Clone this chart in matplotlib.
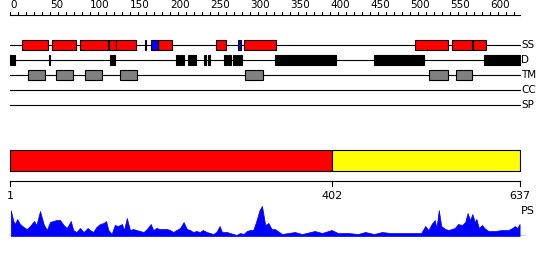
import matplotlib.pyplot as plt
from matplotlib.patches import Rectangle

seq_len = 637
domain_split = 402

track_names = ['SS', 'D', 'TM', 'CC', 'SP']

# secondary structure: helix (red) and strand (blue)
ss_helix = [(15, 47), (53, 83), (88, 122), (124, 133), (133, 157), (169, 170.5),
            (185, 203), (257, 270), (292, 332), (506, 547), (552, 577), (579, 595)]
ss_strand = [(176, 185), (285, 289)]

# disorder
disorder = [(0, 6), (49, 50.5), (125, 128), (129, 131), (207, 211), (212.5, 214.5),
            (216, 217.5), (222, 233), (242, 245), (248, 250.5), (267.5, 271),
            (272.5, 276), (279, 290), (331, 407), (455, 517), (592, 637)]

# transmembrane
tm = [(22, 44), (57, 79), (94, 115), (137, 159), (294, 316), (524, 547), (557, 578)]

cc = []
sp = []

# PS profile
ps_pos = [1, 4, 6, 9, 12.5, 17, 21, 25, 30, 33, 37.5, 42, 46, 50, 54, 58, 62.5, 67, 71,
          76, 79, 83, 87.5, 92, 97, 100, 104, 108, 112.5, 117, 120, 123, 127, 131, 135,
          140, 142.5, 146, 150, 154, 158, 162.5, 167, 171, 176, 179, 183, 187.5, 192,
          196, 200, 204, 208, 212.5, 217, 221, 225, 229, 233, 237.5, 241, 246, 250,
          254, 258, 262, 265, 271, 275, 279, 283, 287.5, 292, 296, 300, 304, 307.5,
          312, 315, 319, 323, 327, 331, 340, 356, 365, 381, 390, 402, 410, 423, 435,
          444, 455, 465, 475, 489, 500, 514, 519, 523, 527, 531, 533, 536, 539, 544,
          548, 552, 556, 560, 565, 569, 572, 575, 578, 581, 583, 586, 590, 593, 598,
          606, 615, 623, 628, 631, 634, 637]
ps_val = [25.7, 15.7, 12, 17, 12, 9, 7, 10, 15, 11, 25, 12, 6, 14, 15, 16, 16, 11, 8,
          15, 6, 4, 8, 4, 8, 6, 4, 9, 12, 13, 15, 6, 2, 11, 10, 12, 6, 18, 6, 7, 6, 5,
          4, 7, 12, 6, 8, 7, 7, 7, 6, 4, 6, 8, 14, 7, 6, 4, 5, 4, 6, 4, 3, 2, 4, 10, 4,
          4, 3, 2, 1, 3, 2, 5, 6, 6, 14, 26, 30, 11, 13, 7, 7, 2, 4, 2, 5, 3, 6, 3,
          3, 2, 4, 2, 4, 3, 3, 3, 3, 10, 6, 12, 16, 8, 26, 10, 7, 6, 7, 8, 12, 11, 14,
          23, 16, 22, 14, 17, 8, 11, 8, 5, 5, 6, 6, 8, 10, 8, 12]

W, H = 550, 260
fig = plt.figure(figsize=(W / 100, H / 100), dpi=100)
ax = fig.add_axes([0, 0, 1, 1])
# x in residues (residue 0 sits at 10 px, 0.8 px per residue), y in pixels from top
ax.set_xlim(-12.5, (W - 10) / 0.8)
ax.set_ylim(H, 0)
ax.axis('off')

lw = 0.8

# ruler
ax.plot([0, seq_len], [15, 15], color='black', lw=lw)
for t in range(0, seq_len, 10):
    ax.plot([t, t], [15, 11.5], color='black', lw=lw)
    if t % 50 == 0:
        ax.text(t, 10.5, str(t), ha='left', va='bottom', fontsize=7.5)


def draw_boxes(segs, y, color):
    for a, b in segs:
        ax.add_patch(Rectangle((a, y - 5), b - a, 10, facecolor=color,
                               edgecolor='black', lw=lw, zorder=3))


track_y = [45, 60, 75, 90, 105]
for name, y in zip(track_names, track_y):
    ax.plot([0, seq_len], [y, y], color='black', lw=lw, zorder=2)
    ax.text(seq_len + 2, y, name, ha='left', va='center', fontsize=7.5)

draw_boxes(ss_helix, track_y[0], '#ff0000')
draw_boxes(ss_strand, track_y[0], '#0000ff')
draw_boxes(disorder, track_y[1], 'black')
draw_boxes(tm, track_y[2], '#808080')
draw_boxes(cc, track_y[3], '#808080')
draw_boxes(sp, track_y[4], '#808080')

# domain bar
ax.add_patch(Rectangle((0, 150), domain_split, 20.5, facecolor='#ff0000',
                       edgecolor='black', lw=lw))
ax.add_patch(Rectangle((domain_split, 150), seq_len - domain_split, 20.5,
                       facecolor='#ffff00', edgecolor='black', lw=lw))

# bracket with boundary labels
ax.plot([0, seq_len], [180.5, 180.5], color='black', lw=lw)
for pos, lab in [(0, '1'), (domain_split, '402'), (seq_len, '637')]:
    ax.plot([pos, pos], [180.5, 185.5], color='black', lw=lw)
    ax.text(pos, 196, lab, ha='center', va='center', fontsize=8)
ax.text(seq_len + 2, 211, 'PS', ha='left', va='center', fontsize=8)

# PS profile
ax2 = fig.add_axes([0, (H - 236) / H, 1, 32 / H])
ax2.set_xlim(ax.get_xlim())
ax2.set_ylim(0, 32)
ax2.axis('off')
ax2.fill_between(ps_pos, 0, ps_val, color='#0000ff', lw=0.5)
ax2.plot([0, seq_len + 7], [0.3, 0.3], color='#0000ff', lw=1)

fig.savefig('out.png', dpi=100)
